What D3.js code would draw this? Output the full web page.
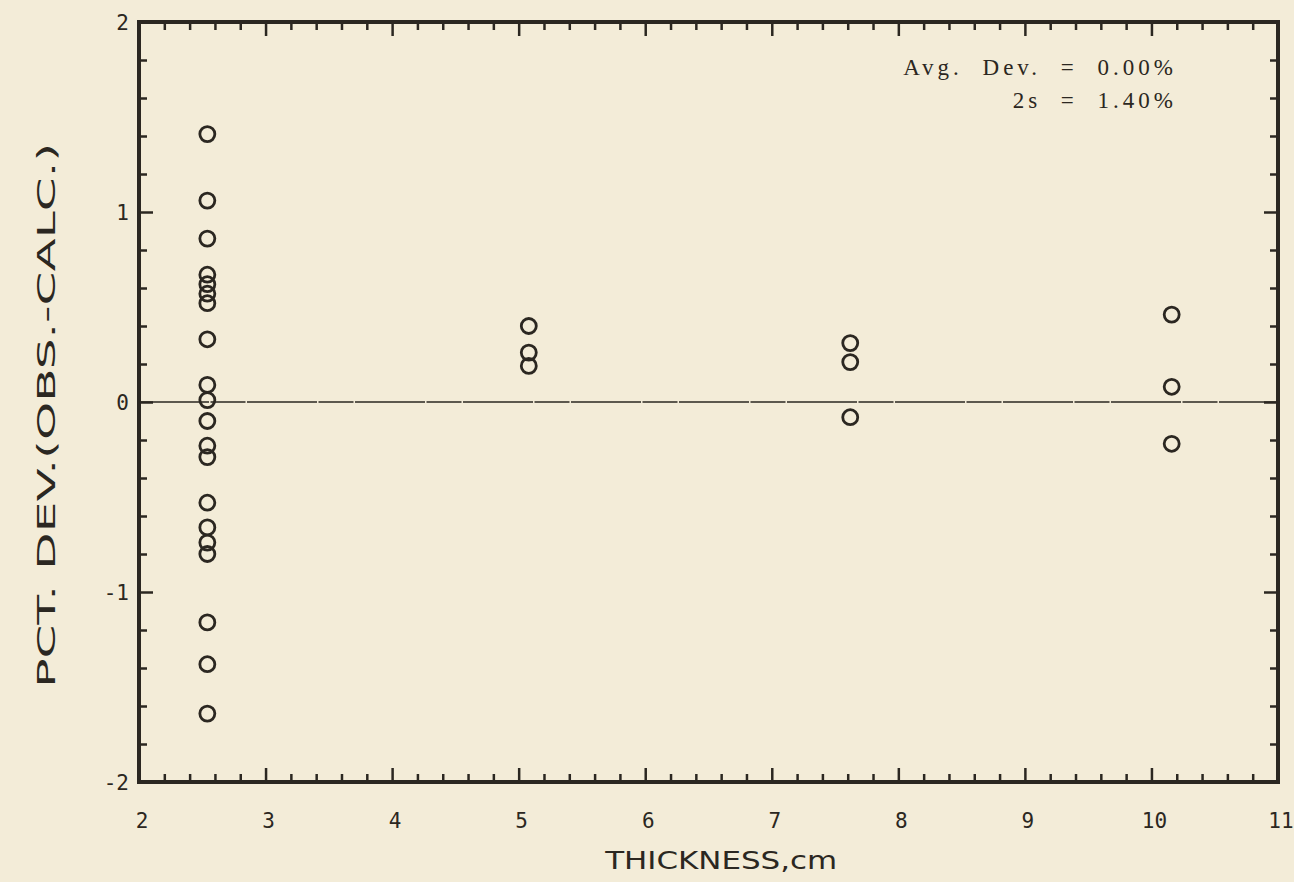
<!DOCTYPE html>
<html><head><meta charset="utf-8">
<script src="https://cdn.jsdelivr.net/npm/d3@7"></script>
<style>
html,body{margin:0;padding:0;background:#f3ecd8;}
svg{display:block;}
</style></head>
<body>
<script>
// Data
const thickness = [2.54, 5.08, 7.62, 10.16];
const dev254 = [1.41, 1.06, 0.86, 0.67, 0.62, 0.57, 0.52, 0.33, 0.09, 0.01, -0.10, -0.23, -0.29, -0.53, -0.66, -0.74, -0.80, -1.16, -1.38, -1.64];
const dev508 = [0.40, 0.26, 0.19];
const dev762 = [0.31, 0.21, -0.08];
const dev1016 = [0.46, 0.08, -0.22];
const xTicks = [2, 3, 4, 5, 6, 7, 8, 9, 10, 11];
const yTicks = [-2, -1, 0, 1, 2];
const xLabel = "THICKNESS,cm";
const yLabel = "PCT. DEV.(OBS.-CALC.)";
const notes = ["Avg. Dev. = 0.00%", "2s = 1.40%"];

const W = 1294, H = 882;
const m = {left: 139, right: 1278, top: 22, bottom: 782};
const ink = "#2b2721";

const svg = d3.select("body").append("svg").attr("width", W).attr("height", H);
svg.append("rect").attr("width", W).attr("height", H).attr("fill", "#f3ecd8");

const x = d3.scaleLinear().domain([2, 11]).range([m.left, m.right]);
const y = d3.scaleLinear().domain([-2, 2]).range([m.bottom, m.top]);

const minorX = d3.range(2, 11.001, 0.2).map(v => +v.toFixed(1)).filter(v => Math.abs(v - Math.round(v)) > 1e-6);
const minorY = d3.range(-2, 2.001, 0.2).map(v => +v.toFixed(1)).filter(v => Math.abs(v - Math.round(v)) > 1e-6);

function styleAxis(g) {
  g.select(".domain").remove();
  g.selectAll("line").attr("stroke", ink).attr("stroke-width", 2.5);
}

// Bottom axis (ticks inward)
svg.append("g").attr("transform", `translate(0,${m.bottom})`)
  .call(d3.axisTop(x).tickValues(xTicks).tickSize(14).tickFormat(""))
  .call(styleAxis);
svg.append("g").attr("transform", `translate(0,${m.bottom})`)
  .call(d3.axisTop(x).tickValues(minorX).tickSize(8).tickFormat(""))
  .call(styleAxis);
// Top axis
svg.append("g").attr("transform", `translate(0,${m.top})`)
  .call(d3.axisBottom(x).tickValues(xTicks).tickSize(14).tickFormat(""))
  .call(styleAxis);
svg.append("g").attr("transform", `translate(0,${m.top})`)
  .call(d3.axisBottom(x).tickValues(minorX).tickSize(8).tickFormat(""))
  .call(styleAxis);
// Left axis
svg.append("g").attr("transform", `translate(${m.left},0)`)
  .call(d3.axisRight(y).tickValues(yTicks).tickSize(14).tickFormat(""))
  .call(styleAxis);
svg.append("g").attr("transform", `translate(${m.left},0)`)
  .call(d3.axisRight(y).tickValues(minorY).tickSize(8).tickFormat(""))
  .call(styleAxis);
// Right axis
svg.append("g").attr("transform", `translate(${m.right},0)`)
  .call(d3.axisLeft(y).tickValues(yTicks).tickSize(14).tickFormat(""))
  .call(styleAxis);
svg.append("g").attr("transform", `translate(${m.right},0)`)
  .call(d3.axisLeft(y).tickValues(minorY).tickSize(8).tickFormat(""))
  .call(styleAxis);

// Frame
svg.append("rect")
  .attr("x", m.left).attr("y", m.top)
  .attr("width", m.right - m.left).attr("height", m.bottom - m.top)
  .attr("fill", "none").attr("stroke", ink).attr("stroke-width", 4);

// Zero line
svg.append("line")
  .attr("x1", m.left).attr("x2", m.right)
  .attr("y1", y(0)).attr("y2", y(0))
  .attr("stroke", ink).attr("stroke-width", 1.6)
  .attr("stroke-dasharray", "70,1.5,35,1.5");

// Tick labels
const tickFont = "'DejaVu Sans Mono', 'Liberation Mono', monospace";
svg.append("g").selectAll("text").data(xTicks).join("text")
  .attr("x", d => x(d) + 3).attr("y", m.bottom + 46)
  .attr("text-anchor", "middle")
  .attr("font-family", tickFont).attr("font-size", 21)
  .attr("fill", ink)
  .text(d => d);
svg.append("g").selectAll("text").data(yTicks).join("text")
  .attr("x", m.left - 10).attr("y", d => y(d) + 8)
  .attr("text-anchor", "end")
  .attr("font-family", tickFont).attr("font-size", 21)
  .attr("fill", ink)
  .text(d => d);

// Axis titles
svg.append("text")
  .attr("x", x(6.6)).attr("y", 869)
  .attr("text-anchor", "middle")
  .attr("font-family", "'DejaVu Sans', sans-serif").attr("font-size", 25)
  .attr("textLength", 232).attr("lengthAdjust", "spacingAndGlyphs")
  .attr("fill", ink)
  .text(xLabel);
svg.append("text")
  .attr("transform", `translate(55,${y(-0.07)}) rotate(-90)`)
  .attr("text-anchor", "middle")
  .attr("font-family", "'DejaVu Sans', sans-serif").attr("font-size", 24)
  .attr("textLength", 545).attr("lengthAdjust", "spacingAndGlyphs")
  .attr("fill", ink)
  .text(yLabel);

// Notes
svg.append("g").selectAll("text").data(notes).join("text")
  .attr("x", 1177).attr("y", (d, i) => 75 + i * 33)
  .attr("text-anchor", "end")
  .attr("font-family", "'Liberation Serif', serif").attr("font-size", 23)
  .attr("letter-spacing", 4).attr("word-spacing", 10)
  .attr("fill", ink)
  .text(d => d);

// Points
const series = [dev254, dev508, dev762, dev1016];
const pts = [];
series.forEach((arr, i) => arr.forEach(v => pts.push({t: thickness[i], v})));
svg.append("g").selectAll("circle").data(pts).join("circle")
  .attr("cx", d => x(d.t)).attr("cy", d => y(d.v))
  .attr("r", 7.5)
  .attr("fill", "none")
  .attr("stroke", ink).attr("stroke-width", 2.8);
</script>
</body></html>
